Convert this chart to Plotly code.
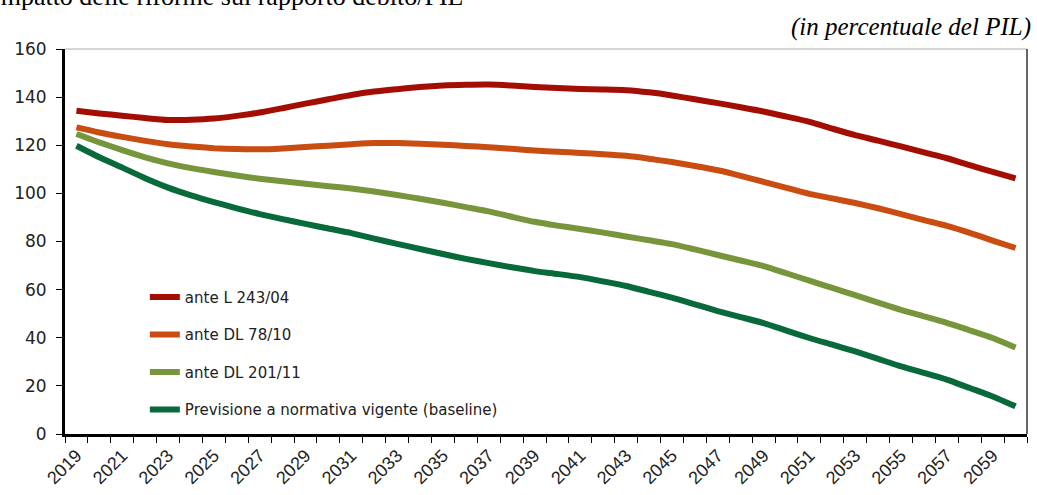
import plotly.graph_objects as go

# Years of the projection
years = list(range(2019, 2061))

# Debt/GDP ratio (% of GDP) under each pension-reform scenario
ante_l_243_04 = [134.3, 133.2, 132.3, 131.3, 130.5, 130.6, 131.1, 132.2, 133.6, 135.4,
                 137.3, 139.1, 140.9, 142.3, 143.3, 144.2, 144.8, 145.1, 145.2, 144.8,
                 144.2, 143.8, 143.4, 143.2, 142.9, 142.0, 140.7, 139.1, 137.5, 135.8,
                 134.0, 131.9, 129.7, 126.9, 124.2, 121.9, 119.5, 117.0, 114.6, 111.7,
                 108.9, 106.2]
ante_dl_78_10 = [127.4, 125.3, 123.5, 121.8, 120.4, 119.5, 118.8, 118.4, 118.3, 118.7,
                 119.3, 119.8, 120.4, 120.9, 120.9, 120.6, 120.2, 119.7, 119.2, 118.5,
                 117.8, 117.3, 116.8, 116.3, 115.6, 114.4, 113.0, 111.4, 109.6, 107.3,
                 104.8, 102.3, 99.8, 97.9, 96.0, 93.8, 91.4, 88.9, 86.5, 83.6,
                 80.4, 77.3]
ante_dl_201_11 = [124.7, 121.2, 118.0, 115.0, 112.5, 110.5, 108.9, 107.4, 106.1, 105.0,
                  104.0, 103.0, 102.0, 100.8, 99.3, 97.8, 96.1, 94.3, 92.5, 90.3,
                  88.2, 86.6, 85.2, 83.7, 82.1, 80.5, 78.9, 76.7, 74.4, 72.1,
                  69.8, 66.8, 63.7, 60.7, 57.7, 54.6, 51.6, 48.9, 46.2, 43.1,
                  39.9, 35.9]
baseline = [119.8, 115.0, 110.7, 106.3, 102.4, 99.2, 96.4, 93.8, 91.4, 89.3,
            87.3, 85.4, 83.5, 81.2, 79.0, 76.9, 74.8, 72.8, 71.0, 69.3,
            67.7, 66.5, 65.2, 63.4, 61.5, 59.1, 56.7, 53.9, 51.1, 48.6,
            46.1, 43.0, 39.9, 37.1, 34.3, 31.2, 28.1, 25.4, 22.6, 19.1,
            15.6, 11.5]

series_names = ["ante L 243/04", "ante DL 78/10", "ante DL 201/11",
                "Previsione a normativa vigente (baseline)"]
series_colors = ["#A30D02", "#C94C10", "#77963B", "#08693A"]
series_values = [ante_l_243_04, ante_dl_78_10, ante_dl_201_11, baseline]

label_years = list(range(2019, 2061, 2))
y_ticks = list(range(0, 161, 20))

fig = go.Figure()
for i, (name, color, vals) in enumerate(zip(series_names, series_colors, series_values)):
    fig.add_trace(go.Scatter(
        x=years, y=vals, name=name, mode="lines",
        line=dict(color=color, width=6, shape="spline", smoothing=0.6),
        legendgroup=f"g{i}",
    ))

W, H = 1037, 495
ml, mr, mt, mb = 65, 10, 49, 61
pw, ph = W - ml - mr, H - mt - mb

fig.update_layout(
    width=W, height=H,
    margin=dict(l=ml, r=mr, t=mt, b=mb, autoexpand=False),
    paper_bgcolor="white", plot_bgcolor="white",
    showlegend=True,
    legend=dict(
        x=0.083, y=0.398, xanchor="left", yanchor="top",
        font=dict(family="DejaVu Sans", size=15, color="#222222"),
        bgcolor="rgba(0,0,0,0)", tracegroupgap=15, itemwidth=30,
    ),
    xaxis=dict(
        range=[2018.5, 2060.5], tickmode="array", tickvals=label_years,
        ticktext=[str(y) for y in label_years], tickangle=-45,
        ticks="", showgrid=False, zeroline=False, automargin=False,
        showline=True, linecolor="black", linewidth=3,
        tickfont=dict(family="Liberation Sans", size=18, color="#222222"),
        ticklabelstandoff=1,
        minor=dict(tickvals=[y - 0.5 for y in years] + [2060.5], ticks="outside",
                   ticklen=6, tickcolor="black", tickwidth=1, showgrid=False),
    ),
    yaxis=dict(
        range=[0, 160], tickvals=y_ticks, ticks="outside", ticklen=6,
        tickcolor="black", tickwidth=1, showgrid=False, zeroline=False,
        showline=True, linecolor="black", linewidth=3, automargin=False,
        tickfont=dict(family="DejaVu Sans", size=17, color="#222222"),
        ticklabelstandoff=6,
    ),
    shapes=[
        dict(type="line", xref="paper", yref="paper", x0=0, x1=1, y0=1, y1=1,
             line=dict(color="#C8C8C8", width=1.5)),
        dict(type="line", xref="paper", yref="paper", x0=1, x1=1, y0=0, y1=1,
             line=dict(color="#333333", width=1.5)),
    ],
    annotations=[
        dict(text="Impatto delle riforme sul rapporto debito/PIL",
             xref="paper", yref="paper", x=(-10 - ml) / pw, y=(H - mb - 13) / ph,
             xanchor="left", yanchor="bottom", showarrow=False,
             font=dict(family="Liberation Serif", size=26, color="black")),
        dict(text="<i>(in percentuale del PIL)</i>",
             xref="paper", yref="paper", x=(1033 - ml) / pw, y=(H - mb - 27) / ph,
             xanchor="right", yanchor="middle", showarrow=False,
             font=dict(family="Liberation Serif", size=25, color="black")),
    ],
)

fig.write_html("out.html")
